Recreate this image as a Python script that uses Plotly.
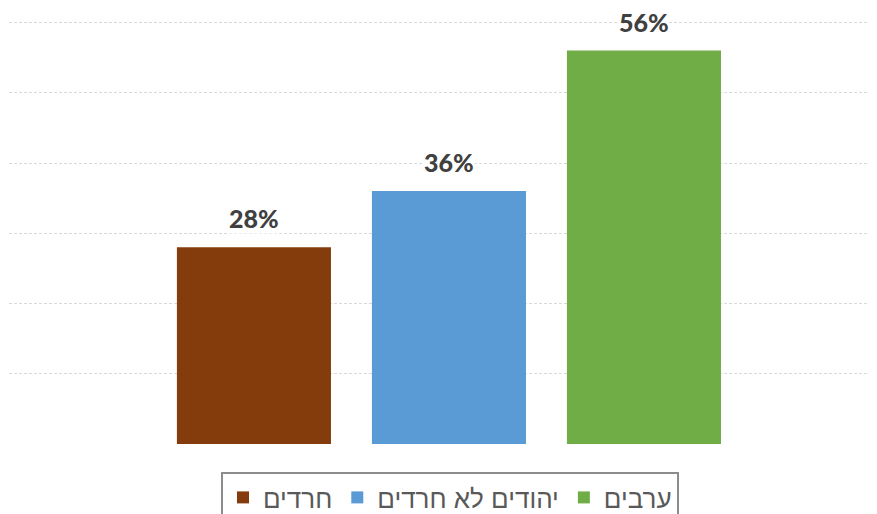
import plotly.graph_objects as go

categories = ["חרדים", "יהודים לא חרדים", "ערבים"]
values = [28, 36, 56]
labels = ["28%", "36%", "56%"]
colors = ["#843C0C", "#5B9BD5", "#70AD47"]

fig = go.Figure()
for cat, val, col in zip(categories, values, colors):
    fig.add_trace(go.Bar(x=[cat], y=[val], name=cat, marker_color=col,
                         width=0.79, marker_line_width=0))

for cat, val, lab in zip(categories, values, labels):
    fig.add_annotation(x=cat, y=val, text=lab, showarrow=False,
                       yanchor="middle", yshift=29, bgcolor="white",
                       font=dict(family="Lato", size=25, color="#404040", weight=900),
                       borderpad=0)

# page body has an 8px default margin, so the figure is 8px smaller and shifted
fig.update_layout(
    width=869, height=506,
    margin=dict(l=1, r=0, t=10.5, b=70, autoexpand=False),
    plot_bgcolor="white", paper_bgcolor="white",
    barmode="overlay",
    showlegend=True,
    legend=dict(orientation="h", xref="container", yref="container",
                x=(450 - 8) / 869, xanchor="center", y=1 - 464 / 506, yanchor="top",
                bordercolor="#8c8c8c", borderwidth=2,
                font=dict(family="Liberation Sans", size=26, color="#595959"),
                traceorder="normal"),
    xaxis=dict(range=[-1.256, 3.195], showticklabels=False, showgrid=False,
               zeroline=False, showline=False, type="category"),
    yaxis=dict(range=[0, 60.5], tickvals=[0, 10, 20, 30, 40, 50, 60],
               showticklabels=False, showgrid=True,
               gridcolor="#d9d9d9", griddash="3px,2px", gridwidth=1,
               zeroline=False, showline=False),
)

fig.write_html("out.html")
